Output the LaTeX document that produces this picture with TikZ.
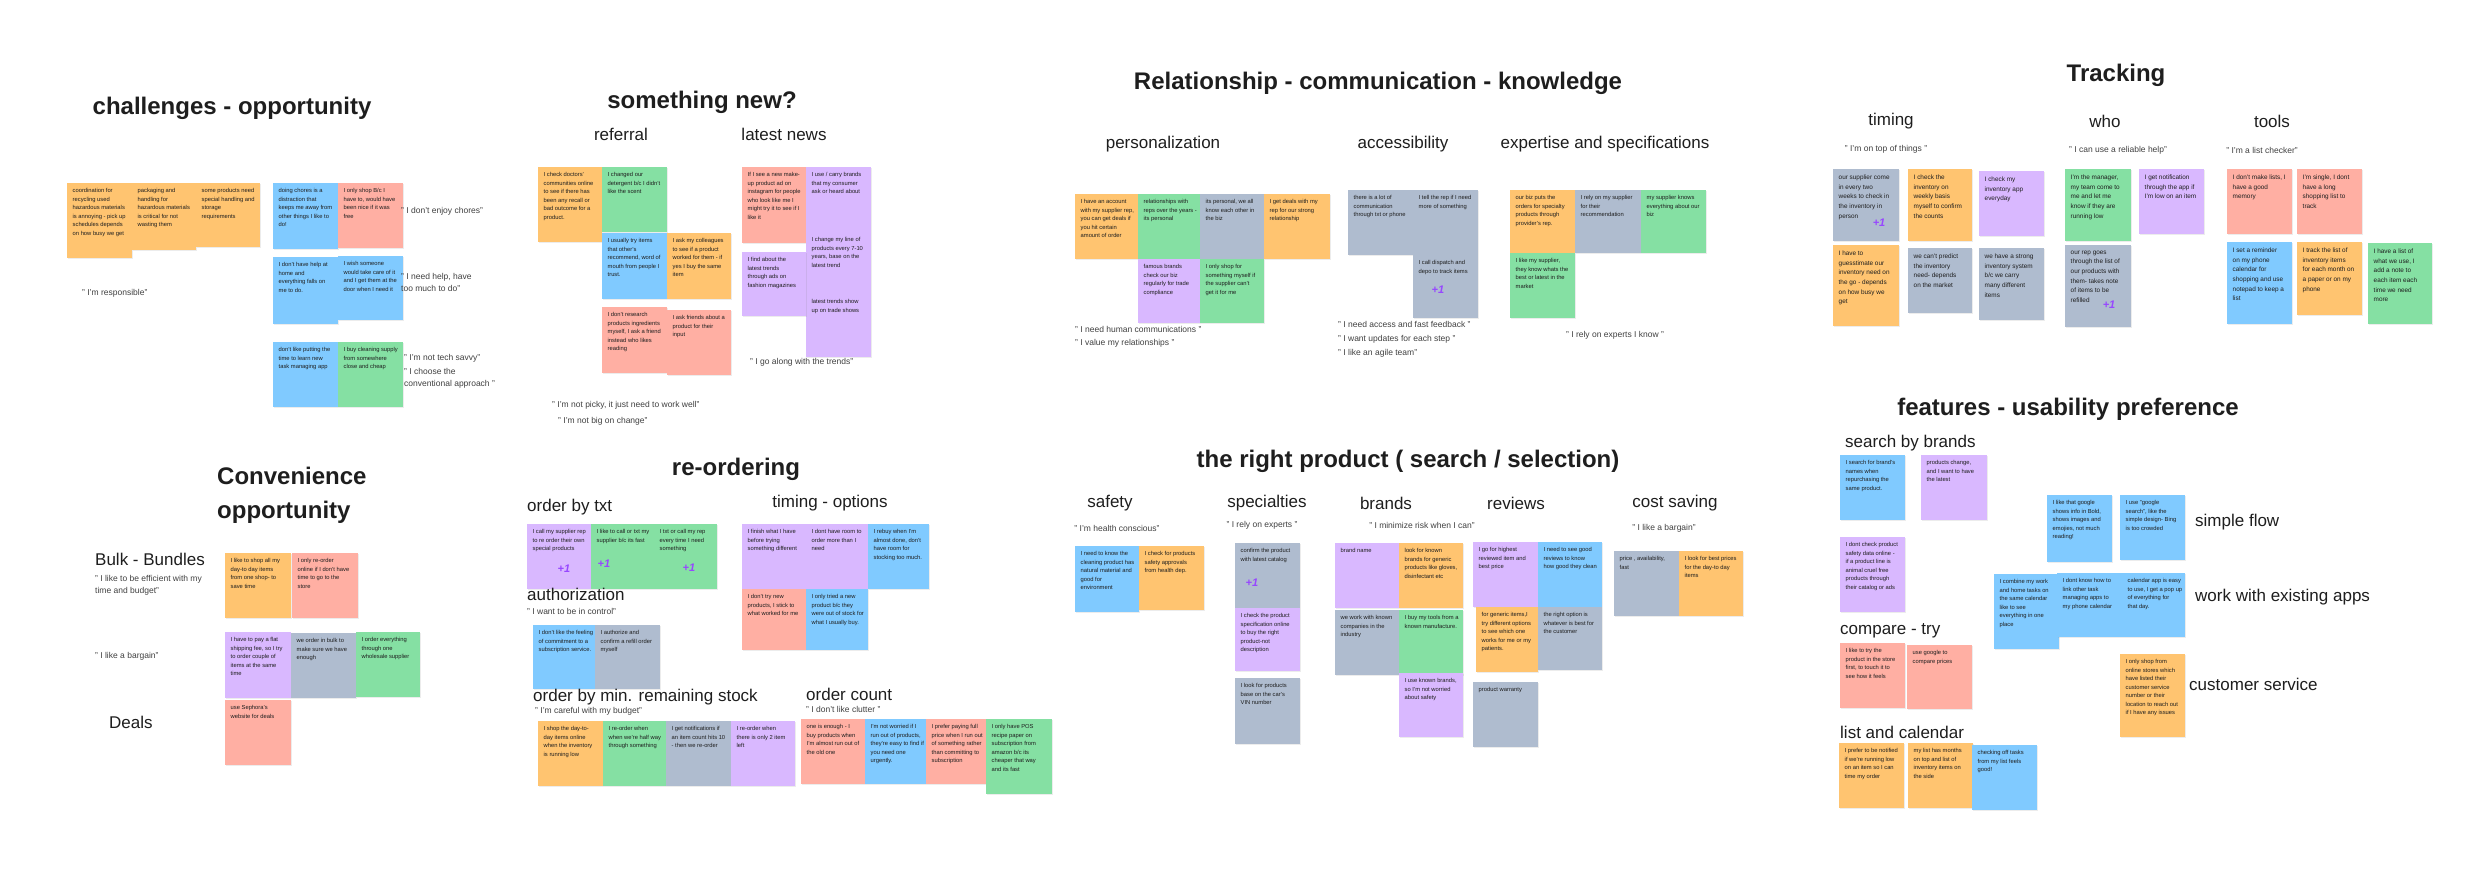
\documentclass[tikz,border=0pt]{standalone}
\usepackage{fontspec}
\setmainfont{Liberation Sans}
\usetikzlibrary{shadows}
\definecolor{ink}{HTML}{1E1E1E}
\definecolor{stkorange}{HTML}{FFC470}
\definecolor{stkred}{HTML}{FFAFA3}
\definecolor{stkblue}{HTML}{80CAFF}
\definecolor{stkgreen}{HTML}{85E0A3}
\definecolor{stkviolet}{HTML}{D9B8FF}
\definecolor{stkgray}{HTML}{AFBCCF}
\definecolor{plusviolet}{HTML}{9747FF}
\tikzset{
  bigtitle/.style  = {font=\bfseries\fontsize{24}{34}\selectfont, text=ink, inner sep=0pt, align=left},
  subhead/.style   = {font=\fontsize{17}{20}\selectfont, text=ink, inner sep=0pt},
  saying/.style    = {font=\fontsize{8.5}{12}\selectfont, text=ink!85, inner sep=0pt, align=left},
  stickybox/.style = {anchor=north west, inner sep=0pt, draw=none,
                      drop shadow={opacity=0.15, shadow xshift=0.5pt, shadow yshift=-1pt}},
  stickytext/.style = {anchor=north west, inner sep=0pt, align=left, text=ink,
                      font=\fontsize{5.8}{8.5}\selectfont},
  plusone/.style   = {font=\bfseries\itshape\fontsize{11}{11}\selectfont, text=plusviolet, inner sep=0pt},
}
% name, colour, x, y (top left, px), width, height, text
\newcommand{\sticky}[7]{%
  \node[stickybox, fill=#2, minimum width=#5, minimum height=#6] (#1) at (#3,#4) {};
  \node[stickytext] (#1-t) at ([xshift=5.5pt,yshift=-5.5pt]#1.north west) {#7};
}

\begin{document}
\begin{tikzpicture}[x=1pt, y=-1pt]
  \useasboundingbox (0,0) rectangle (2477,880);
  \fill[white] (0,0) rectangle (2477,880);

  \node[bigtitle] (h-chal) at (232,108) {challenges - opportunity};
  \sticky{c1}{stkorange}{67}{183}{65}{75}{coordination for\\recycling used\\hazardous materials\\is annoying - pick up\\schedules depends\\on how busy we get}
  \sticky{c2}{stkorange}{132}{183}{64}{67}{packaging and\\handling for\\hazardous materials\\is critical for not\\wasting them}
  \sticky{c3}{stkorange}{196}{183}{64}{64}{some products need\\special handling and\\storage\\requirements}
  \node[saying, anchor=west] (q-resp) at (82,293) {" I'm responsible"};
  \sticky{c4}{stkblue}{273}{183}{65}{66}{doing chores is a\\distraction that\\keeps me away from\\other things I like to\\do!}
  \sticky{c5}{stkred}{338}{183}{65}{65}{I only shop B/c I\\have to, would have\\been nice if it was\\free}
  \node[saying, anchor=west] (q-chores) at (401,211) {" I don't enjoy chores"};
  \sticky{c6}{stkblue}{273}{257}{65}{67}{I don't have help at\\home and\\everything falls on\\me to do.}
  \sticky{c7}{stkblue}{338}{256}{65}{64}{I wish someone\\would take care of it\\and I get them at the\\door when I need it}
  \node[saying, anchor=west] (q-help) at (401,282) {" I need help, have\\too much to do"};
  \sticky{c8}{stkblue}{273}{342}{65}{65}{don't like putting the\\time to learn new\\task managing app}
  \sticky{c9}{stkgreen}{338}{342}{65}{65}{I buy cleaning supply\\from somewhere\\close and cheap}
  \node[saying, anchor=west] (q-tech) at (404,358) {" I'm not tech savvy"};
  \node[saying, anchor=west] (q-conv) at (404,378) {" I choose the\\conventional approach "};

  \node[bigtitle] (h-new) at (702,102) {something new?};
  \node[subhead] (s-ref) at (621,134) {referral};
  \node[subhead] (s-news) at (784,134) {latest news};
  \sticky{s1}{stkorange}{538}{167}{64}{75}{I check doctors'\\communities online\\to see if there has\\been any recall or\\bad outcome for a\\product.}
  \sticky{s2}{stkgreen}{602}{167}{65}{65}{I changed our\\detergent b/c I didn't\\like the scent}
  \sticky{s3}{stkblue}{602}{233}{65}{66}{I usually try items\\that other's\\recommend, word of\\mouth from people I\\trust.}
  \sticky{s4}{stkorange}{667}{233}{64}{66}{I ask my colleagues\\to see if a product\\worked for them - if\\yes I buy the same\\item}
  \sticky{s5}{stkred}{602}{307}{65}{66}{I don't research\\products ingredients\\myself, I ask a friend\\instead who likes\\reading}
  \sticky{s6}{stkred}{667}{310}{64}{65}{I ask friends about a\\product for their\\input}
  \sticky{n1}{stkred}{742}{167}{64}{76}{If I see a new make-\\up product ad on\\instagram for people\\who look like me I\\might try it to see if I\\like it}
  \sticky{n2}{stkviolet}{806}{167}{65}{65}{I use / carry brands\\that my consumer\\ask or heard about}
  \sticky{n3}{stkviolet}{806}{232}{65}{62}{I change my line of\\products every 7-10\\years, base on the\\latest trend}
  \sticky{n4}{stkviolet}{806}{294}{65}{63}{latest trends show\\up on trade shows}
  \sticky{n5}{stkviolet}{742}{252}{64}{64}{I find about the\\latest trends\\through ads on\\fashion magazines}
  \node[saying, anchor=west] (q-trend) at (750,362) {" I go along with the trends"};
  \node[saying, anchor=west] (q-picky) at (552,405) {" I'm not picky, it just need to work well"};
  \node[saying, anchor=west] (q-change) at (558,421) {" I'm not big on change"};

  \node[bigtitle] (h-rel) at (1378,83) {Relationship - communication - knowledge};
  \node[subhead] (s-pers) at (1163,144) {personalization};
  \node[subhead] (s-acc) at (1403,144) {accessibility};
  \node[subhead] (s-exp) at (1605,144) {expertise and specifications};
  \sticky{r1}{stkorange}{1075}{194}{63}{65}{I have an account\\with my supplier rep,\\you can get deals if\\you hit certain\\amount of order}
  \sticky{r2}{stkgreen}{1138}{194}{62}{65}{relationships with\\reps over the years -\\its personal}
  \sticky{r3}{stkgray}{1200}{194}{64}{65}{its personal, we all\\know each other in\\the biz}
  \sticky{r4}{stkorange}{1264}{194}{66}{65}{I get deals with my\\rep for our strong\\relationship}
  \sticky{r5}{stkviolet}{1138}{259}{62}{64}{famous brands\\check our biz\\regularly for trade\\compliance}
  \sticky{r6}{stkgreen}{1200}{259}{64}{64}{I only shop for\\something myself if\\the supplier can't\\get it for me}
  \node[saying, anchor=west] (q-human) at (1075,329) {" I need human communications "};
  \node[saying, anchor=west] (q-value) at (1075,343) {" I value my relationships "};
  \sticky{a1}{stkgray}{1348}{190}{65}{65}{there is a lot of\\communication\\through txt or phone}
  \sticky{a2}{stkgray}{1413}{190}{65}{65}{I tell the rep if I need\\more of something}
  \sticky{a3}{stkgray}{1413}{255}{65}{63}{I call dispatch and\\depo to track items}
  \node[plusone] (a3-p) at (1438,290) {+1};
  \node[saying, anchor=west] (q-access) at (1338,324) {" I need access and fast feedback  "};
  \node[saying, anchor=west] (q-update) at (1338,339) {" I want updates for each step "};
  \node[saying, anchor=west] (q-agile) at (1338,353) {" I like an agile team"};
  \sticky{e1}{stkorange}{1510}{190}{65}{63}{our biz puts the\\orders for specialty\\products through\\provider's rep.}
  \sticky{e2}{stkgray}{1575}{190}{66}{63}{I rely on my supplier\\for their\\recommendation}
  \sticky{e3}{stkgreen}{1641}{190}{65}{63}{my supplier knows\\everything about our\\biz}
  \sticky{e4}{stkgreen}{1510}{253}{65}{65}{I like my supplier,\\they know whats the\\best or latest in the\\market}
  \node[saying] (q-experts) at (1615,335) {" I rely on experts I know "};

  \node[bigtitle] (h-track) at (2116,75) {Tracking};
  \node[subhead] (s-timing) at (1891,121) {timing};
  \node[subhead] (s-who) at (2105,121) {who};
  \node[subhead] (s-tools) at (2272,121) {tools};
  \node[saying] (q-top) at (1886,149) {" I'm on top of things "};
  \node[saying] (q-reliable) at (2118,150) {" I can use a reliable help"};
  \node[saying] (q-list) at (2262,150) {" I'm a list checker"};
  \begin{scope}[stickytext/.append style={font=\fontsize{6.4}{9.7}\selectfont}]
    \sticky{t1}{stkgray}{1833}{169}{66}{72}{our supplier come\\in every two\\weeks to check in\\the inventory in\\person}
    \sticky{t2}{stkorange}{1908}{169}{64}{72}{I check the\\inventory on\\weekly basis\\myself to confirm\\the counts}
    \sticky{t3}{stkviolet}{1979}{171}{65}{65}{I check my\\inventory app\\everyday}
    \sticky{t4}{stkorange}{1833}{245}{66}{81}{I have to\\guesstimate our\\inventory need on\\the go - depends\\on how busy we\\get}
    \sticky{t5}{stkgray}{1908}{248}{64}{65}{we can't predict\\the inventory\\need- depends\\on the market}
    \sticky{t6}{stkgray}{1979}{248}{65}{72}{we have a strong\\inventory system\\b/c we carry\\many different\\items}
    \sticky{w1}{stkgreen}{2065}{169}{66}{72}{I'm the manager,\\my team come to\\me  and let me\\know if they are\\running low}
    \sticky{w2}{stkviolet}{2139}{169}{65}{65}{I get notification\\through the app if\\I'm low on an item}
    \sticky{w3}{stkgray}{2065}{245}{66}{82}{our rep goes\\through the list of\\our products with\\them- takes note\\of items to be\\refilled}
    \sticky{o1}{stkred}{2227}{169}{65}{65}{I don't make lists, I\\have a good\\memory}
    \sticky{o2}{stkred}{2297}{169}{65}{65}{I'm single, I dont\\have a long\\shopping list to\\track}
    \sticky{o3}{stkblue}{2227}{242}{65}{82}{I set a reminder\\on my phone\\calendar for\\shopping and use\\notepad to keep a\\list}
    \sticky{o4}{stkorange}{2297}{242}{65}{73}{I track the list of\\inventory items\\for each month on\\a paper or on my\\phone}
    \sticky{o5}{stkgreen}{2368}{243}{64}{81}{I have a list of\\what we use, I\\add a note to\\each item each\\time we need\\more}
  \end{scope}
  \node[plusone] (t1-p) at (1879,223) {+1};
  \node[plusone] (w3-p) at (2109,305) {+1};

  \node[bigtitle, anchor=west] (h-conv) at (217,495) {Convenience\\opportunity};
  \node[subhead, anchor=west] (s-bulk) at (95,559) {Bulk - Bundles};
  \node[saying, anchor=west] (q-eff) at (95,585) {" I like to be efficient with my\\time and budget"};
  \node[saying, anchor=west] (q-barg) at (95,656) {" I like a bargain"};
  \node[subhead, anchor=west] (s-deals) at (109,722) {Deals};
  \sticky{v1}{stkorange}{225}{553}{66}{65}{I like to shop all my\\day-to day items\\from one shop- to\\save time}
  \sticky{v2}{stkred}{292}{553}{66}{65}{I only re-order\\online if I don't have\\time to go to the\\store}
  \sticky{v3}{stkviolet}{225}{632}{66}{66}{I have to pay a flat\\shipping fee, so I try\\to order couple of\\items at the same\\time}
  \sticky{v4}{stkgray}{291}{633}{65}{65}{we order in bulk to\\make sure we have\\enough}
  \sticky{v5}{stkgreen}{356}{632}{64}{65}{I order everything\\through one\\wholesale supplier}
  \sticky{v6}{stkred}{225}{700}{66}{65}{use Sephora's\\website for deals}

  \node[bigtitle] (h-reord) at (736,469) {re-ordering};
  \node[subhead, anchor=west] (s-txt) at (527,507) {order by txt};
  \sticky{b1}{stkviolet}{527}{524}{64}{65}{I call my supplier rep\\to re order their own\\special products}
  \sticky{b2}{stkgreen}{591}{524}{63}{65}{I like to call or txt my\\supplier b/c its fast}
  \sticky{b3}{stkgreen}{654}{524}{63}{65}{I txt or call my rep\\every time I need\\something}
  \node[plusone] (b1-p) at (564,569) {+1};
  \node[plusone] (b2-p) at (604,564) {+1};
  \node[plusone] (b3-p) at (689,568) {+1};
  \node[subhead, anchor=west] (s-auth) at (527,594) {authorization};
  \node[saying, anchor=west] (q-ctrl) at (527,611) {" I want to be in control"};
  \sticky{u1}{stkblue}{533}{625}{62}{64}{I don't like the feeling\\of commitment to a\\subscription service.}
  \sticky{u2}{stkgray}{595}{625}{65}{64}{I authorize and\\confirm a refill order\\myself}
  \node[subhead, anchor=west] (s-min) at (533,697) {order by min. remaining stock};
  \node[saying, anchor=west] (q-budget) at (535,711) {" I'm careful with my budget"};
  \sticky{m1}{stkorange}{538}{721}{65}{65}{I shop the day-to-\\day items online\\when the inventory\\is running low}
  \sticky{m2}{stkgreen}{603}{721}{63}{65}{I re-order when\\when we're half way\\through something}
  \sticky{m3}{stkgray}{666}{721}{65}{65}{I get notifications if\\an item count hits 10\\- then we re-order}
  \sticky{m4}{stkviolet}{731}{721}{64}{65}{I re-order when\\there is only 2 item\\left}
  \node[subhead] (s-opt) at (830,503) {timing - options};
  \sticky{p1}{stkviolet}{742}{524}{64}{65}{I finish what I have\\before trying\\something different}
  \sticky{p2}{stkviolet}{806}{524}{62}{65}{I dont have room to\\order more than I\\need}
  \sticky{p3}{stkblue}{868}{524}{61}{65}{I rebuy when I'm\\almost done, don't\\have room for\\stocking too much.}
  \sticky{p4}{stkred}{742}{589}{64}{61}{I don't try new\\products, I stick to\\what worked for me}
  \sticky{p5}{stkblue}{806}{589}{62}{61}{I only tried a new\\product b/c they\\were out of stock for\\what I usually buy.}
  \node[subhead, anchor=west] (s-count) at (806,694) {order count};
  \node[saying, anchor=west] (q-clutter) at (806,709) {" I don't like clutter "};
  \sticky{k1}{stkred}{801}{719}{64}{65}{one is enough - I\\buy products when\\I'm almost run out of\\the old one}
  \sticky{k2}{stkblue}{865}{719}{61}{65}{I'm not worried if I\\run out of products,\\they're easy to find if\\you need one\\urgently.}
  \sticky{k3}{stkred}{926}{719}{60}{65}{I prefer paying full\\price when I run out\\of something rather\\than committing to\\subscription}
  \sticky{k4}{stkgreen}{986}{719}{66}{75}{I only have POS\\recipe paper on\\subscription from\\amazon b/c its\\cheaper that way\\and its fast}

  \node[bigtitle] (h-right) at (1408,461) {the right product ( search / selection)};
  \node[subhead] (s-safe) at (1110,503) {safety};
  \node[subhead] (s-spec) at (1267,503) {specialties};
  \node[subhead] (s-brand) at (1386,503) {brands};
  \node[subhead] (s-rev) at (1516,503) {reviews};
  \node[subhead] (s-cost) at (1675,503) {cost saving};
  \node[saying] (q-health) at (1117,528) {" I'm health conscious"};
  \node[saying] (q-rely) at (1262,525) {" I rely on experts "};
  \node[saying] (q-risk) at (1422,525) {" I minimize risk when I can"};
  \node[saying] (q-barg2) at (1664,528) {" I like a bargain"};
  \sticky{f1}{stkblue}{1075}{546}{64}{66}{I need to know the\\cleaning product has\\natural material and\\good for\\environment}
  \sticky{f2}{stkorange}{1139}{546}{65}{64}{I check for products\\safety approvals\\from health dep.}
  \sticky{x1}{stkgray}{1235}{543}{65}{65}{confirm the product\\with latest catalog}
  \node[plusone] (x1-p) at (1252,583) {+1};
  \sticky{x2}{stkviolet}{1235}{608}{65}{63}{I check the product\\specification online\\to buy the right\\product-not\\description}
  \sticky{x3}{stkgray}{1235}{678}{65}{66}{I look for products\\base on the car's\\VIN number}
  \sticky{g1}{stkviolet}{1335}{543}{64}{65}{brand name}
  \sticky{g2}{stkorange}{1399}{543}{64}{65}{look for known\\brands for generic\\products like gloves,\\disinfectant etc}
  \sticky{g3}{stkgray}{1335}{610}{64}{65}{we work with known\\companies in the\\industry}
  \sticky{g4}{stkgreen}{1399}{610}{64}{65}{I buy my tools from a\\known manufacture.}
  \sticky{g5}{stkviolet}{1399}{673}{64}{64}{I use known brands,\\so I'm not worried\\about safety}
  \sticky{y1}{stkviolet}{1473}{542}{65}{65}{I go for highest\\reviewed item and\\best price}
  \sticky{y2}{stkblue}{1538}{542}{64}{65}{I need to see good\\reviews to know\\how good they clean}
  \sticky{y3}{stkorange}{1476}{607}{62}{65}{for generic items,I\\try different options\\to see which one\\works for me or my\\patients.}
  \sticky{y4}{stkgray}{1538}{607}{64}{63}{the right option is\\whatever is best for\\the customer}
  \sticky{y5}{stkgray}{1473}{682}{65}{65}{product warranty}
  \sticky{z1}{stkgray}{1614}{551}{65}{65}{price , availability,\\fast}
  \sticky{z2}{stkorange}{1679}{551}{64}{65}{I look for best prices\\for the day-to day\\items}

  \node[bigtitle] (h-feat) at (2068,409) {features - usability preference};
  \node[subhead, anchor=west] (s-search) at (1845,443) {search by brands};
  \sticky{j1}{stkblue}{1840}{455}{65}{65}{I search for brand's\\names when\\repurchasing the\\same product.}
  \sticky{j2}{stkviolet}{1921}{455}{66}{65}{products change,\\and I want to have\\the latest}
  \sticky{j3}{stkviolet}{1840}{537}{65}{75}{I dont check product\\safety data online -\\if a product line is\\animal cruel free\\products through\\their catalog or ads}
  \node[subhead, anchor=west] (s-comp) at (1840,631) {compare - try};
  \sticky{l1}{stkred}{1840}{643}{65}{65}{I like to try the\\product in the store\\first, to touch it to\\see how it feels}
  \sticky{l2}{stkred}{1907}{645}{65}{64}{use google to\\compare prices}
  \node[subhead, anchor=west] (s-cal) at (1840,732) {list and calendar};
  \sticky{d1}{stkorange}{1839}{743}{65}{65}{I prefer to be notified\\if we're running low\\on an item so I can\\time my order}
  \sticky{d2}{stkorange}{1908}{743}{65}{65}{my list has months\\on top and list of\\inventory items on\\the side}
  \sticky{d3}{stkblue}{1972}{745}{65}{65}{checking off tasks\\from my list  feels\\good!}
  \sticky{i1}{stkblue}{2047}{495}{65}{67}{I like that google\\shows info in Bold,\\shows images and\\emojies, not much\\reading!}
  \sticky{i2}{stkblue}{2120}{495}{65}{65}{I use "google\\search", like the\\simple design- Bing\\is too crowded}
  \node[subhead, anchor=west] (s-flow) at (2195,522) {simple flow};
  \sticky{k5}{stkblue}{1994}{574}{65}{75}{I combine my work\\and home tasks on\\the same calendar\\like to see\\everything in one\\place}
  \sticky{k6}{stkblue}{2057}{573}{65}{64}{I dont know how to\\link other task\\managing apps to\\my phone calendar}
  \sticky{k7}{stkblue}{2122}{573}{63}{64}{calendar app is easy\\to use, I get a pop up\\of everything for\\that day.}
  \node[subhead, anchor=west] (s-apps) at (2195,597) {work with existing apps};
  \sticky{k8}{stkorange}{2120}{654}{65}{83}{I only shop from\\online stores which\\have listed their\\customer service\\number or their\\location to reach out\\if I have any issues}
  \node[subhead, anchor=west] (s-serv) at (2189,684) {customer service};
\end{tikzpicture}
\end{document}
